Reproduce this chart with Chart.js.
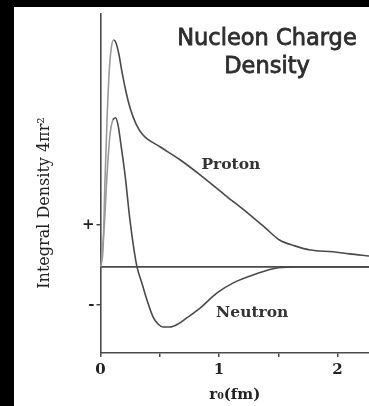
<!DOCTYPE html>
<html><head><meta charset="utf-8">
<script src="https://cdn.jsdelivr.net/npm/chart.js@4"></script>
<style>html,body{margin:0;padding:0;background:#000;overflow:hidden}canvas{display:block}</style>
</head><body>
<canvas id="c" width="369" height="406"></canvas>
<script>
// ---- data ----
const protonR   = [0, 0.021, 0.038, 0.055, 0.072, 0.089, 0.11, 0.131, 0.156, 0.181, 0.215, 0.249, 0.30, 0.359, 0.502, 0.671, 0.84, 1.05, 1.26, 1.39, 1.51, 1.64, 1.77, 1.96, 2.10, 2.265];
const protonDensity = [0, 0.40, 2.07, 3.50, 4.57, 5.17, 5.40, 5.33, 5.05, 4.64, 4.17, 3.79, 3.40, 3.14, 2.86, 2.55, 2.19, 1.71, 1.24, 0.93, 0.64, 0.50, 0.40, 0.36, 0.31, 0.26];
const neutronR  = [0, 0.03, 0.055, 0.08, 0.105, 0.127, 0.148, 0.173, 0.207, 0.249, 0.283, 0.308, 0.354, 0.392, 0.443, 0.485, 0.527, 0.586, 0.654, 0.73, 0.84, 0.983, 1.12, 1.29, 1.50, 1.68, 2.265];
const neutronDensity = [0, 0.88, 2.19, 3.14, 3.50, 3.55, 3.38, 2.90, 2.19, 1.10, 0.40, 0, -0.43, -0.79, -1.19, -1.36, -1.43, -1.43, -1.36, -1.21, -0.98, -0.62, -0.38, -0.19, -0.02, 0, 0];
const baselineR = [0, 2.265];
const baselineDensity = [0, 0];
const xTickValues = [0, 0.5, 1, 1.5, 2];
const xTickLabels = ['0', '', '1', '', '2'];
const yTickValues = [1, -0.9];
const yTickLabels = ['+', '-'];
const seriesNames = ['Proton', 'Neutron'];
const titleLines = ['Nucleon Charge', 'Density'];
const xAxisTitle = 'r\u2080(fm)';
const yAxisTitle = 'Integral Density 4\u03c0r\u00b2';

const pts = (xs, ys) => xs.map((x, i) => ({x: x, y: ys[i]}));
const LINE = '#4a4a4a';
const lightRise = ctx => (ctx.p0.parsed.x < 0.1 && ctx.p0.parsed.y < ctx.p1.parsed.y) ? '#9a9a9a' : undefined;

const framePlugin = {
  id: 'frame',
  beforeDraw(chart) {
    const c = chart.ctx;
    c.save();
    c.fillStyle = '#000';
    c.fillRect(0, 0, chart.width, chart.height);
    c.fillStyle = '#fff';
    c.fillRect(14, 7, chart.width - 14, chart.height - 7);
    c.restore();
  }
};

const textPlugin = {
  id: 'texts',
  afterDatasetsDraw(chart, args, opts) {
    const c = chart.ctx, xs = chart.scales.x, ys = chart.scales.y;
    c.save();
    // title
    c.fillStyle = '#2e2e2e';
    c.strokeStyle = '#2e2e2e';
    c.lineWidth = 0.8;
    c.font = '22.5px "DejaVu Sans"';
    c.textAlign = 'center';
    c.textBaseline = 'alphabetic';
    titleLines.forEach((t, i) => {
      c.fillText(t, opts.titleX, opts.titleY + i * opts.titleGap);
      c.strokeText(t, opts.titleX, opts.titleY + i * opts.titleGap);
    });
    // series labels
    c.font = 'bold 15.5px "DejaVu Serif"';
    c.fillStyle = '#333';
    c.textBaseline = 'middle';
    opts.labels.forEach((l, i) => {
      c.fillText(seriesNames[i], xs.getPixelForValue(l.x), ys.getPixelForValue(l.y));
    });
    // y axis title
    c.translate(opts.yTitleX, opts.yTitleY);
    c.rotate(-Math.PI / 2);
    c.fillStyle = '#222';
    c.font = '16px "DejaVu Serif"';
    c.fillText(yAxisTitle, 0, 0);
    c.restore();
  }
};

new Chart(document.getElementById('c'), {
  type: 'line',
  data: {
    datasets: [
      {label: seriesNames[0], data: pts(protonR, protonDensity), borderColor: LINE, borderWidth: 1.6, pointRadius: 0, cubicInterpolationMode: 'monotone', segment: {borderColor: lightRise}},
      {label: seriesNames[1], data: pts(neutronR, neutronDensity), borderColor: LINE, borderWidth: 1.6, pointRadius: 0, cubicInterpolationMode: 'monotone', segment: {borderColor: lightRise}},
      {label: 'baseline', data: pts(baselineR, baselineDensity), borderColor: LINE, borderWidth: 1.6, pointRadius: 0}
    ]
  },
  options: {
    responsive: false,
    animation: false,
    layout: {padding: {top: 14, left: 0, right: 0, bottom: 0}},
    plugins: {
      legend: {display: false},
      tooltip: {enabled: false},
      texts: {
        titleX: 267, titleY: 45, titleGap: 28,
        yTitleX: 45, yTitleY: 203,
        labels: [{x: 1.10, y: 2.42}, {x: 1.28, y: -1.10}]
      }
    },
    scales: {
      x: {
        type: 'linear', min: 0, max: 2.265,
        afterFit: s => { s.height = 53; },
        afterBuildTicks: s => { s.ticks = xTickValues.map(v => ({value: v})); },
        ticks: {
          autoSkip: false, maxRotation: 0, padding: 4, color: '#222',
          font: {family: 'DejaVu Serif', size: 15, weight: 'bold'},
          callback: (v, i) => xTickLabels[i]
        },
        grid: {drawOnChartArea: false, drawTicks: true, tickLength: 4, color: LINE, lineWidth: 1.5},
        border: {display: true, color: LINE, width: 1.6},
        title: {display: true, text: xAxisTitle, color: '#222', font: {family: 'DejaVu Serif', size: 15, weight: 'bold'}, padding: {top: 0, bottom: 2}}
      },
      y: {
        type: 'linear', min: -2.05, max: 6.02,
        afterFit: s => { s.width = 100.5; },
        afterBuildTicks: s => { s.ticks = yTickValues.map(v => ({value: v})); },
        ticks: {
          autoSkip: false, padding: 2, color: '#222',
          font: {family: 'DejaVu Serif', size: 15, weight: 'bold'},
          callback: (v, i) => yTickLabels[i]
        },
        grid: {drawOnChartArea: false, drawTicks: true, tickLength: 4, color: LINE, lineWidth: 1.5},
        border: {display: true, color: LINE, width: 1.6}
      }
    }
  },
  plugins: [framePlugin, textPlugin]
});
</script>
</body></html>
